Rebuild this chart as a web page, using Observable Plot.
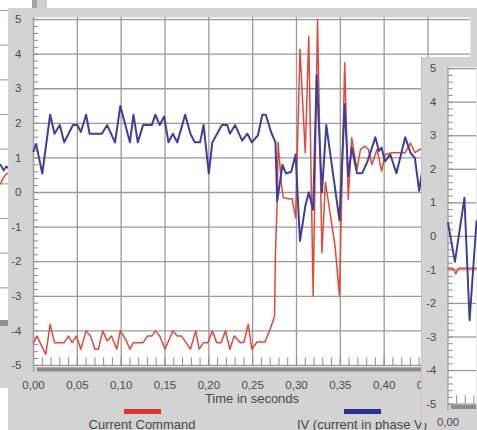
<!DOCTYPE html>
<html><head><meta charset="utf-8">
<script src="https://cdn.jsdelivr.net/npm/d3@7"></script>
<script src="https://cdn.jsdelivr.net/npm/@observablehq/plot@0.6"></script>
<style>
body{margin:0;background:#fff;}
#stage{position:relative;width:477px;height:430px;overflow:hidden;background:#fff;font-family:"Liberation Sans",Arial,sans-serif;color:#474747;}
.lbl{position:absolute;font-size:13px;line-height:13px;white-space:nowrap;color:#474747;}
</style></head><body><div id="stage"></div><script>
// ---- data ----
const xTicks = [0, 0.05, 0.10, 0.15, 0.20, 0.25, 0.30, 0.35, 0.40, 0.45];
const xMinor = d3.range(1, 50).map(i => i / 100);
const yTicks = [-5, -4, -3, -2, -1, 0, 1, 2, 3, 4, 5];
const yMinor = d3.range(-25, 26).map(i => i / 5);

const redT = [0.000,0.004,0.014,0.019,0.024,0.035,0.040,0.044,0.049,0.054,0.060,0.065,0.070,0.074,0.079,0.084,0.089,0.095,0.099,0.105,0.110,0.114,0.125,0.130,0.135,0.139,0.144,0.150,0.159,0.164,0.169,0.179,0.185,0.189,0.194,0.199,0.204,0.209,0.214,0.219,0.224,0.229,0.236,0.240,0.245,0.249,0.255,0.264,0.270,0.275,0.276,0.278,0.279,0.283,0.285,0.291,0.295,0.299,0.304,0.310,0.314,0.319,0.324,0.329,0.333,0.344,0.349,0.355,0.359,0.363,0.369,0.373,0.378,0.382,0.386,0.392,0.397,0.401,0.409,0.424,0.430,0.435,0.443];
const redV = [-4.35,-4.15,-4.68,-3.81,-4.34,-4.34,-4.15,-4.34,-4.15,-4.53,-4.0,-4.15,-4.53,-4.53,-4.0,-4.29,-4.15,-4.53,-4.0,-4.24,-4.53,-4.34,-4.34,-4.15,-4.15,-4.0,-4.15,-4.53,-4.0,-4.15,-4.15,-4.53,-4.0,-4.53,-4.34,-4.34,-4.0,-4.34,-4.34,-4.0,-4.53,-4.15,-4.34,-4.33,-3.81,-4.53,-4.32,-4.32,-3.95,-3.57,-1.73,-0.29,1.45,0.19,-0.15,-0.18,-0.18,-0.73,4.14,1.15,4.52,-2.99,5.0,-1.74,0.3,-1.55,-2.99,3.75,-0.2,1.58,0.67,1.25,1.34,1.25,0.81,1.25,0.62,1.1,1.15,1.15,1.43,1.15,1.28];

const blueT = [0.000,0.003,0.010,0.019,0.024,0.030,0.035,0.045,0.050,0.054,0.060,0.064,0.078,0.084,0.093,0.099,0.110,0.114,0.119,0.125,0.135,0.139,0.144,0.149,0.154,0.159,0.164,0.173,0.179,0.184,0.190,0.194,0.200,0.204,0.215,0.221,0.224,0.230,0.238,0.244,0.249,0.256,0.261,0.265,0.271,0.276,0.278,0.284,0.288,0.294,0.299,0.304,0.310,0.314,0.319,0.323,0.329,0.334,0.340,0.349,0.355,0.359,0.363,0.369,0.375,0.381,0.390,0.394,0.397,0.401,0.407,0.414,0.424,0.430,0.435,0.440,0.445];
const blueV = [1.2,1.4,0.55,2.25,1.7,1.95,1.45,1.95,1.95,1.75,2.25,1.7,1.7,1.95,1.45,2.5,1.45,2.25,1.45,1.95,1.95,2.25,1.95,2.2,1.45,1.7,1.45,2.25,1.7,1.45,1.45,1.95,0.55,1.45,1.95,1.95,1.7,1.95,1.5,1.7,1.45,1.65,2.25,2.25,1.75,1.45,-0.25,0.8,0.55,0.6,1.1,-1.4,-0.4,0.0,-0.5,3.4,0.0,1.95,0.85,-0.8,2.55,0.47,1.3,0.56,0.56,0.9,1.6,1.2,1.3,0.9,1.1,0.56,1.6,1.15,1.0,0.05,0.9];

// second (front) window
const x2Ticks = [0];
const x2Minor = [0.01, 0.02, 0.03];
const red2T = [0, 0.006, 0.009, 0.012, 0.033];
const red2V = [-0.95, -0.95, -1.12, -0.95, -0.95];
const blue2T = [0, 0.008, 0.019, 0.025, 0.033];
const blue2V = [0.4, -0.76, 1.15, -2.5, 0.45];

// window behind (left strip)
const bgTicks = [5, 4, 3, 2, 1, 0, -1, -2, -3];
const bgBlueX = [0, 0.4, 0.7, 1];
const bgBlueV = [0.55, 0.38, 0.5, 0.45];
const bgRedX = [0, 0.3, 0.6, 1];
const bgRedV = [0.0, 0.15, 0.25, 0.32];

const legendNames = ["Current Command", "IV (current in phase V)"];
const seriesColors = ["#e2493a", "#3d3f98"];
const legendColors = ["#d7372f", "#2f318f"];

// ---- helpers ----
const stage = document.getElementById("stage");
function place(el, left, top) {
  el.style.position = "absolute";
  el.style.left = left + "px";
  el.style.top = top + "px";
  stage.appendChild(el);
  return el;
}
function box(left, top, w, h, bg) {
  const d = document.createElement("div");
  d.style.width = w + "px"; d.style.height = h + "px"; d.style.background = bg;
  return place(d, left, top);
}
const zip = (ts, vs) => ts.map((t, i) => ({t, v: vs[i]}));
const fmtX = d => d.toFixed(2).replace(".", ",");
const fmtY = d => String(d);
const GRAY = "#d3d3d3";
const GRID = "#9a9a9a";

// ---- window behind ----
const strip = Plot.plot({
  width: 8, height: 322, marginTop: 10, marginBottom: 0, marginLeft: 0, marginRight: 0,
  x: {domain: [0, 1], axis: null}, y: {domain: [-4, 5], axis: null},
  style: {background: "white"},
  marks: [
    Plot.ruleY(bgTicks, {stroke: "#a8a8a8", strokeWidth: 1.2}),
    Plot.line(zip(bgRedX, bgRedV), {x: "t", y: "v", stroke: seriesColors[0], strokeWidth: 1.5}),
    Plot.line(zip(bgBlueX, bgBlueV), {x: "t", y: "v", stroke: seriesColors[1], strokeWidth: 1.8})
  ]
});
place(strip, 0, 0);
box(0, 320, 8, 6, "#8f8f8f");
box(0, 326, 8, 62, GRAY);
box(32, 0, 15, 8, "#cfcfcf");
box(32, 0, 5, 8, "#a3a3a3");

// ---- main window ----
const main = Plot.plot({
  width: 469, height: 422,
  marginLeft: 25, marginTop: 9, marginRight: 7, marginBottom: 64,
  x: {domain: [0, 0.4985]},
  y: {domain: [-5.03, 5.06]},
  style: {background: GRAY, fontFamily: "Liberation Sans, Arial, sans-serif", color: "#4a4a4a"},
  marks: [
    Plot.frame({fill: "white", stroke: "none"}),
    Plot.ruleX(xTicks, {stroke: GRID, strokeWidth: 1.3}),
    Plot.ruleY(yTicks, {stroke: GRID, strokeWidth: 1.3}),
    Plot.ruleX(xMinor, {y1: -5.03, y2: -4.78, stroke: "#8a8a8a", strokeWidth: 1}),
    Plot.ruleY(yMinor, {x1: 0, x2: 0.006, stroke: "#8a8a8a", strokeWidth: 1}),
    Plot.ruleX([0], {y1: -5.2, y2: 5.06, stroke: "#a0a0a0", strokeWidth: 1.3}),
    Plot.ruleY([-5.03], {x1: 0.0045, x2: 0.4985, dy: 3, stroke: "#8c8c8c", strokeWidth: 4}),
    Plot.line(zip(redT, redV), {x: "t", y: "v", stroke: seriesColors[0], strokeWidth: 1.5}),
    Plot.line(zip(blueT, blueV), {x: "t", y: "v", stroke: seriesColors[1], strokeWidth: 2}),
    Plot.axisY({ticks: yTicks, tickSize: 0, tickPadding: 12, tickFormat: fmtY, fontSize: 11.5, label: null}),
    Plot.axisX({ticks: xTicks, tickSize: 0, tickPadding: 14.5, tickFormat: fmtX, fontSize: 11.5, label: null})
  ]
});
place(main, 8, 8);

// axis title and legend
const title = document.createElement("div");
title.className = "lbl";
title.textContent = "Time in seconds";
title.style.width = "200px"; title.style.textAlign = "center";
place(title, 252 - 100, 392);

const legendCenters = [142, 362];
legendNames.forEach((name, i) => {
  box(legendCenters[i] - 18.5, 409, 37, 5, legendColors[i]);
  const t = document.createElement("div");
  t.className = "lbl";
  t.textContent = name;
  t.style.width = "200px"; t.style.textAlign = "center";
  place(t, legendCenters[i] - 100, 418);
});

// ---- front window ----
const front = Plot.plot({
  width: 55, height: 373,
  marginLeft: 26, marginTop: 10, marginRight: 0, marginBottom: 20,
  x: {domain: [0, 0.033]},
  y: {domain: [-5, 5.04]},
  style: {background: GRAY, fontFamily: "Liberation Sans, Arial, sans-serif", color: "#4a4a4a", overflow: "visible"},
  marks: [
    Plot.frame({fill: "white", stroke: "none"}),
    Plot.ruleY(yTicks, {stroke: GRID, strokeWidth: 1.3}),
    Plot.ruleX(x2Minor, {y1: -5, y2: -4.75, stroke: "#8a8a8a", strokeWidth: 1}),
    Plot.ruleY(yMinor, {x1: 0, x2: 0.006, stroke: "#8a8a8a", strokeWidth: 1}),
    Plot.ruleX(x2Ticks, {y1: -5.2, y2: 5.04, stroke: "#a0a0a0", strokeWidth: 1.3}),
    Plot.ruleY([-5], {x1: 0.004, x2: 0.033, dy: 3, stroke: "#8c8c8c", strokeWidth: 4}),
    Plot.line(zip(red2T, red2V), {x: "t", y: "v", stroke: seriesColors[0], strokeWidth: 1.5}),
    Plot.line(zip(blue2T, blue2V), {x: "t", y: "v", stroke: seriesColors[1], strokeWidth: 2}),
    Plot.axisY({ticks: yTicks, tickSize: 0, tickPadding: 12, tickFormat: fmtY, fontSize: 11.5, label: null}),
    Plot.axisX({ticks: x2Ticks, tickSize: 0, tickPadding: 14.5, tickFormat: fmtX, fontSize: 11.5, label: null})
  ]
});
front.style.borderLeft = "1px solid #c4c4c4";
front.style.boxSizing = "border-box";
place(front, 421, 57);
</script></body></html>
